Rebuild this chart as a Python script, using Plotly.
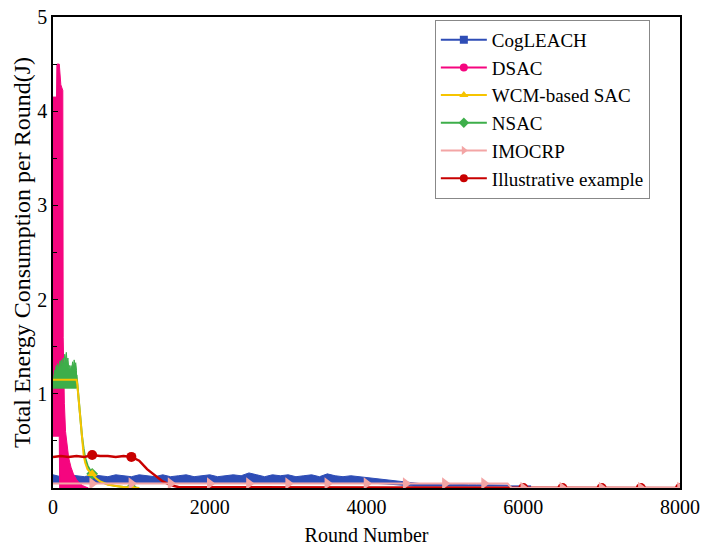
import plotly.graph_objects as go

# ---------------- data ----------------
SERIES = ["CogLEACH", "DSAC", "WCM-based SAC", "NSAC", "IMOCRP", "Illustrative example"]
COLORS = ["#2E4DB6", "#F5057F", "#F6C400", "#3DAE4A", "#F3A5A5", "#C80000"]
SYMBOLS = ["square", "circle", "triangle-up", "diamond", "triangle-right", "circle"]

# CogLEACH noisy band (upper / lower envelope)
COG_UP_X = list(range(0, 5900, 100))
COG_UP_Y = [0.14, 0.12, 0.14, 0.13, 0.12, 0.14, 0.13, 0.12, 0.14, 0.13,
            0.12, 0.14, 0.13, 0.12, 0.14, 0.12, 0.13, 0.14, 0.12, 0.13,
            0.14, 0.12, 0.13, 0.14, 0.13, 0.16, 0.14, 0.12, 0.14, 0.13,
            0.14, 0.12, 0.13, 0.14, 0.12, 0.15, 0.13, 0.12, 0.13, 0.12,
            0.11, 0.10, 0.09, 0.08, 0.07, 0.06, 0.05, 0.045, 0.045, 0.04,
            0.04, 0.04, 0.035, 0.035, 0.035, 0.035, 0.03, 0.03, 0.03]
COG_LO_X = [0, 4000, 4300, 4600, 5800]
COG_LO_Y = [0.055, 0.055, 0.04, 0.02, 0.02]
COG_TAIL_X = [5800, 6100]
COG_TAIL_Y = [0.02, 0.02]

# DSAC heavily oscillating band (upper / lower envelope)
DSAC_UP_X = [0, 45, 50, 80, 100, 125, 130, 135, 145, 160, 180, 200, 230, 260, 300, 340, 380, 420, 450]
DSAC_UP_Y = [4.15, 4.15, 4.5, 4.5, 4.28, 4.22, 1.6, 1.3, 0.9, 0.6, 0.42, 0.32, 0.22, 0.15, 0.09, 0.05, 0.025, 0.01, 0.0]
DSAC_LO_X = [0, 80, 85, 450]
DSAC_LO_Y = [0.55, 0.55, 0.0, 0.0]

# WCM-based SAC
WCM_X = [0, 300, 310, 330, 350, 370, 390, 410, 440, 480, 500, 550, 600, 700, 800, 900, 1000, 1100]
WCM_Y = [1.15, 1.15, 1.1, 0.92, 0.68, 0.48, 0.36, 0.27, 0.2, 0.16, 0.15, 0.1, 0.07, 0.035, 0.02, 0.01, 0.005, 0.0]

# NSAC noisy band then decay
NSAC_UP_X = list(range(0, 310, 10))
NSAC_UP_Y = [1.12, 1.2, 1.25, 1.22, 1.3, 1.27, 1.32, 1.26, 1.3, 1.35,
             1.28, 1.36, 1.3, 1.38, 1.32, 1.42, 1.36, 1.44, 1.33, 1.38,
             1.28, 1.3, 1.24, 1.3, 1.26, 1.34, 1.28, 1.36, 1.3, 1.33, 1.25]
NSAC_LO_X = [0, 300]
NSAC_LO_Y = [1.06, 1.06]
NSAC_X = [300, 310, 330, 350, 370, 390, 410, 440, 480, 500, 550, 600, 700, 800, 900, 1000, 1100]
NSAC_Y = [1.2, 1.1, 0.95, 0.75, 0.55, 0.42, 0.32, 0.24, 0.17, 0.15, 0.1, 0.07, 0.04, 0.02, 0.01, 0.005, 0.0]

# IMOCRP
IMO_X = [0, 500, 1000, 1500, 2000, 2500, 3000, 3500, 4000, 4500, 5000, 5500, 5800, 5850,
         6000, 6500, 7000, 7500, 8000]
IMO_Y = [0.048, 0.048, 0.048, 0.048, 0.048, 0.048, 0.048, 0.048, 0.048, 0.048, 0.048, 0.048, 0.048, 0.0,
         0.0, 0.0, 0.0, 0.0, 0.0]

# Illustrative example
ILL_X = [0, 100, 200, 300, 400, 500, 600, 700, 800, 900, 1000, 1100, 1200, 1300, 1400, 1500,
         1600, 2000, 2500, 3000, 3500, 4000, 4500, 5000, 5500, 5800, 5850,
         6000, 6500, 7000, 7500, 8000]
ILL_Y = [0.33, 0.34, 0.33, 0.34, 0.33, 0.35, 0.34, 0.34, 0.33, 0.34, 0.33, 0.29, 0.2, 0.13, 0.07, 0.03,
         0.01, 0.008, 0.008, 0.008, 0.008, 0.008, 0.008, 0.008, 0.008, 0.008, 0.0,
         0.0, 0.0, 0.0, 0.0, 0.0]

MARKER_ROUNDS = [500, 1000, 1500, 2000, 2500, 3000, 3500, 4000, 4500, 5000, 5500, 6000, 6500, 7000, 7500, 8000]
ILL_MARKER_ROUNDS = [500, 1000, 6000, 6500, 7000, 7500, 8000]

X_TICKS = [0, 2000, 4000, 6000, 8000]
Y_TICKS = [1, 2, 3, 4, 5]
Y_MINOR = [0.5, 1.5, 2.5, 3.5, 4.5]

FONT = "Liberation Serif, Times New Roman, serif"

fig = go.Figure()


def band(ux, uy, lx, ly, color):
    fig.add_trace(go.Scatter(
        x=list(ux) + list(lx)[::-1], y=list(uy) + list(ly)[::-1],
        fill="toself", fillcolor=color, mode="lines",
        line=dict(color=color, width=1), showlegend=False, hoverinfo="skip"))


def line(x, y, color, width):
    fig.add_trace(go.Scatter(x=x, y=y, mode="lines", line=dict(color=color, width=width),
                             showlegend=False, hoverinfo="skip"))


def markers(x, y, color, symbol, size=9, rounds=MARKER_ROUNDS):
    mx = [a for a in x if a in rounds]
    my = [b for a, b in zip(x, y) if a in rounds]
    fig.add_trace(go.Scatter(x=mx, y=my, mode="markers",
                             marker=dict(color=color, symbol=symbol, size=size),
                             showlegend=False, hoverinfo="skip"))


# CogLEACH
band(COG_UP_X, COG_UP_Y, COG_LO_X, COG_LO_Y, COLORS[0])
line(COG_TAIL_X, COG_TAIL_Y, COLORS[0], 1.5)
# DSAC
band(DSAC_UP_X, DSAC_UP_Y, DSAC_LO_X, DSAC_LO_Y, COLORS[1])
# NSAC
band(NSAC_UP_X, NSAC_UP_Y, NSAC_LO_X, NSAC_LO_Y, COLORS[3])
line(NSAC_X, NSAC_Y, COLORS[3], 2)
markers(NSAC_X, NSAC_Y, COLORS[3], SYMBOLS[3])
# WCM-based SAC
line(WCM_X, WCM_Y, COLORS[2], 2)
markers(WCM_X, WCM_Y, COLORS[2], SYMBOLS[2])
# Illustrative example
line(ILL_X, ILL_Y, COLORS[5], 2.5)
markers(ILL_X, ILL_Y, COLORS[5], SYMBOLS[5], 10, ILL_MARKER_ROUNDS)
# IMOCRP
line(IMO_X, IMO_Y, COLORS[4], 2)
markers(IMO_X, IMO_Y, COLORS[4], SYMBOLS[4], 11)

# legend entries
for name, c, s in zip(SERIES, COLORS, SYMBOLS):
    fig.add_trace(go.Scatter(x=[None], y=[None], name=name, mode="lines+markers",
                             line=dict(color=c, width=2), marker=dict(color=c, symbol=s, size=8)))

fig.update_layout(
    width=702, height=550,
    margin=dict(l=53, r=22, t=17, b=62),
    paper_bgcolor="white", plot_bgcolor="white",
    font=dict(family=FONT, size=20, color="black"),
    showlegend=True,
    legend=dict(x=0.609, y=0.994, xanchor="left", yanchor="top",
                bgcolor="white", bordercolor="#888888", borderwidth=1,
                font=dict(family=FONT, size=19, color="black"),
                tracegroupgap=0, itemwidth=46, entrywidth=172, entrywidthmode="pixels"),
    xaxis=dict(range=[0, 8000], tickvals=X_TICKS, showgrid=False, zeroline=False,
               showline=True, linecolor="black", linewidth=1.5, mirror=True, ticks="",
               automargin=False, ticklabeloverflow="allow",
               tickfont=dict(family=FONT, size=20, color="black"),
               title=dict(text="Round Number", font=dict(family=FONT, size=20, color="black"), standoff=11)),
    yaxis=dict(range=[0, 5], tickvals=Y_TICKS, showgrid=False, zeroline=False,
               showline=True, linecolor="black", linewidth=1.5, mirror=True,
               ticks="inside", ticklen=5, tickcolor="black", automargin=False,
               ticklabeloverflow="allow",
               minor=dict(tickvals=Y_MINOR, ticks="inside", ticklen=4, tickcolor="black"),
               tickfont=dict(family=FONT, size=20, color="black"),
               title=dict(text="Total Energy Consumption per Round(J)",
                          font=dict(family=FONT, size=24, color="black"), standoff=0)),
)

# remove the default 8px page margin so the 702x550 figure fills the window exactly
fig.write_html("out.html", config={"displayModeBar": False},
               post_script="document.body.style.margin='0';document.body.style.overflow='hidden';")
